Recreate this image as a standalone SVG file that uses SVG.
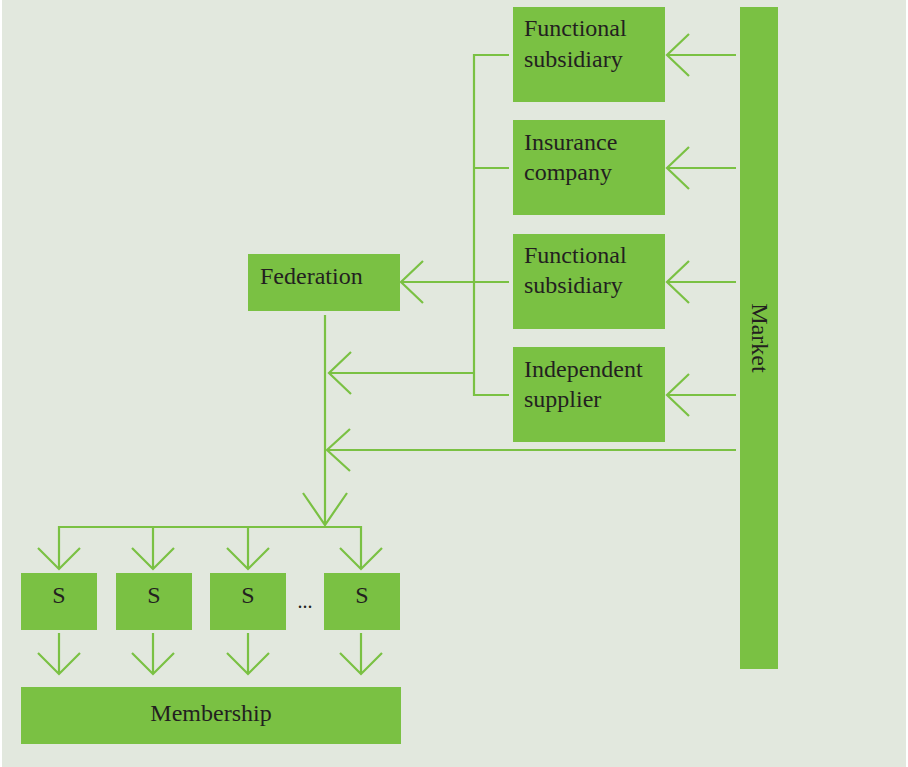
<svg xmlns="http://www.w3.org/2000/svg" width="908" height="767" viewBox="0 0 908 767">
<style>
.box{fill:#7ac143}
.t{font-family:"Liberation Serif","Times New Roman",serif;font-size:24px;fill:#231f20}
.c{text-anchor:middle}
.ln{fill:none;stroke:#7ac143;stroke-width:2.2;stroke-linecap:butt;stroke-linejoin:miter}
</style>
<rect x="0" y="0" width="908" height="767" fill="#ffffff"/>
<rect x="2" y="0" width="904" height="767" fill="#e2e8de"/>
<g id="connectors" class="ln">
<path d="M736,55 H667 M689,34 L667,55 L689,76"/>
<path d="M736,168 H667 M689,147 L667,168 L689,189"/>
<path d="M736,282 H667 M689,261 L667,282 L689,303"/>
<path d="M736,395 H667 M689,374 L667,395 L689,416"/>
<path d="M736,450 H327 M350,429 L327,450 L350,471"/>
<path d="M509,55 H474 V395 H509 M474,168 H509"/>
<path d="M509,282 H401 M423,261 L401,282 L423,303"/>
<path d="M474,373 H329 M351,352 L329,373 L351,394"/>
<path d="M325,315 V525 M303,493 L325,525 L347,493"/>
<path d="M59,569 V527 H361 V569 M153,527 V569 M248,527 V569"/>
<path d="M38,548 L59,569 L80,548 M132,548 L153,569 L174,548 M227,548 L248,569 L269,548 M340,548 L361,569 L382,548"/>
<path d="M59,633 V674 M38,653 L59,674 L80,653"/>
<path d="M153,633 V674 M132,653 L153,674 L174,653"/>
<path d="M248,633 V674 M227,653 L248,674 L269,653"/>
<path d="M361,633 V674 M340,653 L361,674 L382,653"/>
</g>
<g id="functional-subsidiary-1"><rect class="box" x="513" y="7" width="152" height="95"/><text class="t" x="524" y="36">Functional</text><text class="t" x="524" y="67">subsidiary</text></g>
<g id="insurance-company"><rect class="box" x="513" y="120" width="152" height="95"/><text class="t" x="524" y="150">Insurance</text><text class="t" x="524" y="180">company</text></g>
<g id="functional-subsidiary-2"><rect class="box" x="513" y="234" width="152" height="95"/><text class="t" x="524" y="263">Functional</text><text class="t" x="524" y="293">subsidiary</text></g>
<g id="independent-supplier"><rect class="box" x="513" y="347" width="152" height="95"/><text class="t" x="524" y="377">Independent</text><text class="t" x="524" y="407">supplier</text></g>
<g id="market"><rect class="box" x="740" y="7" width="38" height="662"/><text class="t c" transform="translate(752,338) rotate(90)" x="0" y="0">Market</text></g>
<g id="federation"><rect class="box" x="248" y="254" width="152" height="57"/><text class="t" x="260" y="284">Federation</text></g>
<g id="s1"><rect class="box" x="21" y="573" width="76" height="57"/><text class="t c" x="59" y="603">S</text></g>
<g id="s2"><rect class="box" x="116" y="573" width="76" height="57"/><text class="t c" x="154" y="603">S</text></g>
<g id="s3"><rect class="box" x="210" y="573" width="76" height="57"/><text class="t c" x="248" y="603">S</text></g>
<g id="ellipsis"><text class="t c" x="305" y="608" style="font-size:20px">...</text></g>
<g id="s4"><rect class="box" x="324" y="573" width="76" height="57"/><text class="t c" x="362" y="603">S</text></g>
<g id="membership"><rect class="box" x="21" y="687" width="380" height="57"/><text class="t c" x="211" y="721">Membership</text></g>
</svg>
